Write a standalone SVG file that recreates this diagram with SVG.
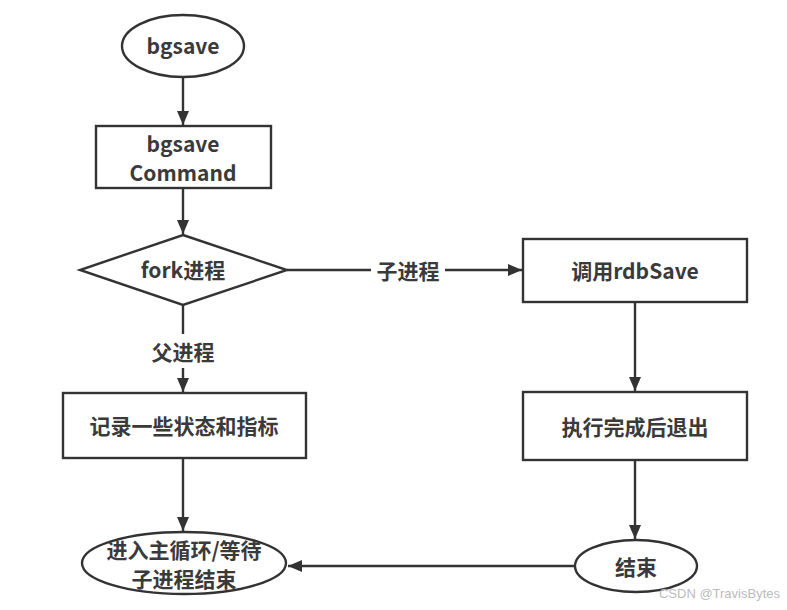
<svg xmlns="http://www.w3.org/2000/svg" width="787" height="610" viewBox="0 0 787 610">
<defs>
<marker id="ah" viewBox="0 0 14 12" refX="14" refY="6" markerWidth="14" markerHeight="12" markerUnits="userSpaceOnUse" orient="auto">
<path d="M0,0 L14,6 L0,12 z" fill="#333"/>
</marker>
<style>
.s{fill:#fff;stroke:#333;stroke-width:2.4}
.t{font-family:"Noto Sans CJK SC","Noto Sans","Liberation Sans",sans-serif;font-size:21px;font-weight:bold;fill:#3a3a3a;text-anchor:middle;dominant-baseline:central}
.c{fill:none;stroke:#333;stroke-width:2.4;marker-end:url(#ah)}
.l{fill:none;stroke:#333;stroke-width:2.4}
</style>
</defs>
<rect width="787" height="610" fill="#fff"/>
<g id="connectors">
<line class="c" x1="183" y1="78" x2="183" y2="125"/>
<line class="c" x1="183" y1="188" x2="183" y2="234"/>
<line class="l" x1="287" y1="270" x2="371" y2="270"/>
<line class="c" x1="445" y1="270" x2="522" y2="270"/>
<line class="l" x1="183" y1="305" x2="183" y2="334"/>
<line class="c" x1="183" y1="368" x2="183" y2="392"/>
<line class="c" x1="183" y1="458" x2="183" y2="531"/>
<line class="c" x1="635" y1="302" x2="635" y2="391"/>
<line class="c" x1="635" y1="460" x2="635" y2="539"/>
<line class="c" x1="575" y1="566" x2="288" y2="566"/>
<text class="t" x="408" y="270">子进程</text>
<text class="t" x="183" y="351">父进程</text>
</g>
<g id="start"><ellipse class="s" cx="183" cy="46" rx="61" ry="31"/><text class="t" x="183" y="45" font-size="24">bgsave</text></g>
<g id="cmd"><rect class="s" x="96" y="126" width="175" height="62"/><text class="t" x="183" y="143" font-size="21">bgsave</text><text class="t" x="183" y="172" font-size="21">Command</text></g>
<g id="fork"><polygon class="s" points="183,235 287,270 183,305 80,270"/><text class="t" x="183" y="269">fork进程</text></g>
<g id="rdb"><rect class="s" x="523" y="239" width="224" height="63"/><text class="t" x="635" y="270">调用rdbSave</text></g>
<g id="exit"><rect class="s" x="523" y="392" width="224" height="68"/><text class="t" x="635" y="426">执行完成后退出</text></g>
<g id="record"><rect class="s" x="63" y="393" width="243" height="65"/><text class="t" x="184" y="425">记录一些状态和指标</text></g>
<g id="loop"><ellipse class="s" cx="184" cy="563" rx="102" ry="31"/><text class="t" x="184" y="549" font-size="20">进入主循环/等待</text><text class="t" x="184" y="578" font-size="20">子进程结束</text></g>
<g id="end"><ellipse class="s" cx="636" cy="566" rx="61" ry="26"/><text class="t" x="636" y="566">结束</text></g>
<text x="780" y="598" font-family="'Liberation Sans',sans-serif" font-size="13" fill="#bbb" text-anchor="end">CSDN @TravisBytes</text>
</svg>
